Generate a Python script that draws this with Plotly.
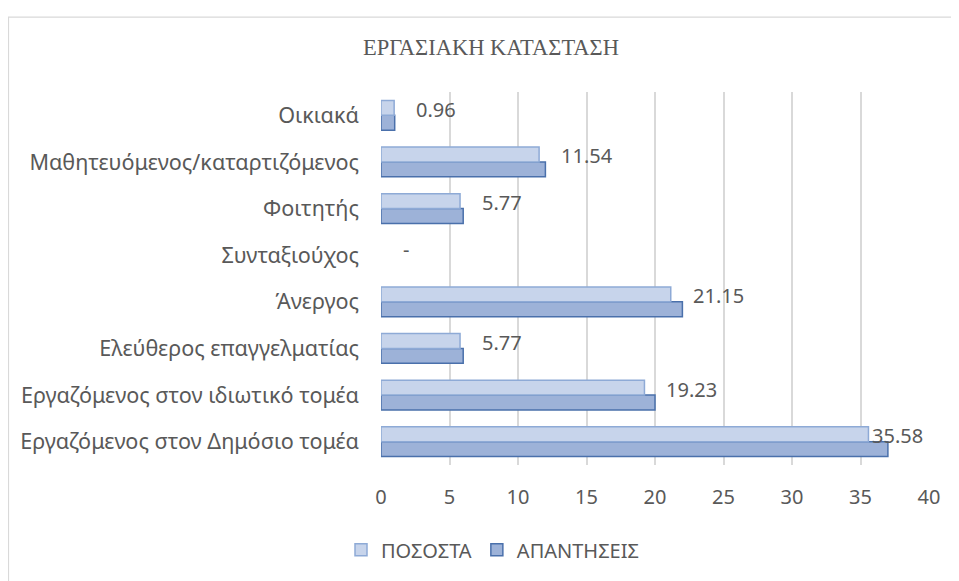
import plotly.graph_objects as go

categories = [
    "Εργαζόμενος στον Δημόσιο τομέα",
    "Εργαζόμενος στον ιδιωτικό τομέα",
    "Ελεύθερος επαγγελματίας",
    "Άνεργος",
    "Συνταξιούχος",
    "Φοιτητής",
    "Μαθητευόμενος/καταρτιζόμενος",
    "Οικιακά",
]
pososta = [35.58, 19.23, 5.77, 21.15, 0, 5.77, 11.54, 0.96]
apantiseis = [37, 20, 6, 22, 0, 6, 12, 1]
label_text = ["35.58", "19.23", "5.77", "21.15", "-", "5.77", "11.54", "0.96"]
x_ticks = [0, 5, 10, 15, 20, 25, 30, 35, 40]

GRAY = "#595959"
FONT = "Noto Sans"

fig = go.Figure()
fig.add_trace(go.Bar(
    y=categories, x=apantiseis, orientation="h", name="ΑΠΑΝΤΗΣΕΙΣ",
    marker=dict(color="#9db2d8",
                line=dict(color="#4a70ab", width=[0 if v == 0 else 1.5 for v in apantiseis])),
    legendrank=2, hoverinfo="x+y",
))
fig.add_trace(go.Bar(
    y=categories, x=pososta, orientation="h", name="ΠΟΣΟΣΤΑ",
    marker=dict(color="#c7d4eb",
                line=dict(color="#8eaad6", width=[0 if v == 0 else 1.5 for v in pososta])),
    legendrank=1, hoverinfo="x+y",
))

for cat, v, t in zip(categories, pososta, label_text):
    shift = 2 if v > 33 else 20
    fig.add_annotation(
        x=v, y=cat, text=t, showarrow=False, xanchor="left", yanchor="middle",
        xshift=shift, yshift=6, font=dict(family=FONT, size=20, color=GRAY),
    )

# chart border
fig.add_shape(type="rect", xref="paper", yref="paper",
              x0=(8.5 - 381) / 548, x1=(975 - 381) / 548,
              y0=(467.5 - 600) / 376, y1=(467.5 - 16) / 376,
              line=dict(color="#d9d9d9", width=1.2), layer="below")

fig.update_layout(
    width=951, height=573,
    margin=dict(l=373, r=30, t=83.5, b=105.5),
    paper_bgcolor="white", plot_bgcolor="white",
    barmode="group", bargap=0.36, bargroupgap=0,
    title=dict(text="ΕΡΓΑΣΙΑΚΗ ΚΑΤΑΣΤΑΣΗ", x=(491 - 8) / 951, xanchor="center",
               y=1 - (47 - 8) / 573, yanchor="middle",
               font=dict(family="Liberation Serif", size=22.5, color=GRAY)),
    font=dict(family=FONT, size=20, color=GRAY),
    showlegend=True,
    legend=dict(orientation="h", x=(341 - 381) / 548, xanchor="left",
                y=(467.5 - 553) / 376, yanchor="middle",
                font=dict(family=FONT, size=20, color=GRAY),
                itemwidth=30, tracegroupgap=0),
    xaxis=dict(range=[0, 40], tickvals=x_ticks, showgrid=True, gridcolor="#d9d9d9",
               gridwidth=1.5, zeroline=False, showline=False, ticks="",
               ticklabelstandoff=18, tickfont=dict(family=FONT, size=20, color=GRAY),
               fixedrange=True),
    yaxis=dict(showgrid=False, zeroline=False, showline=False, ticks="",
               ticklabelstandoff=21, tickfont=dict(family=FONT, size=21.6, color=GRAY),
               fixedrange=True),
)

fig.write_html("out.html")
